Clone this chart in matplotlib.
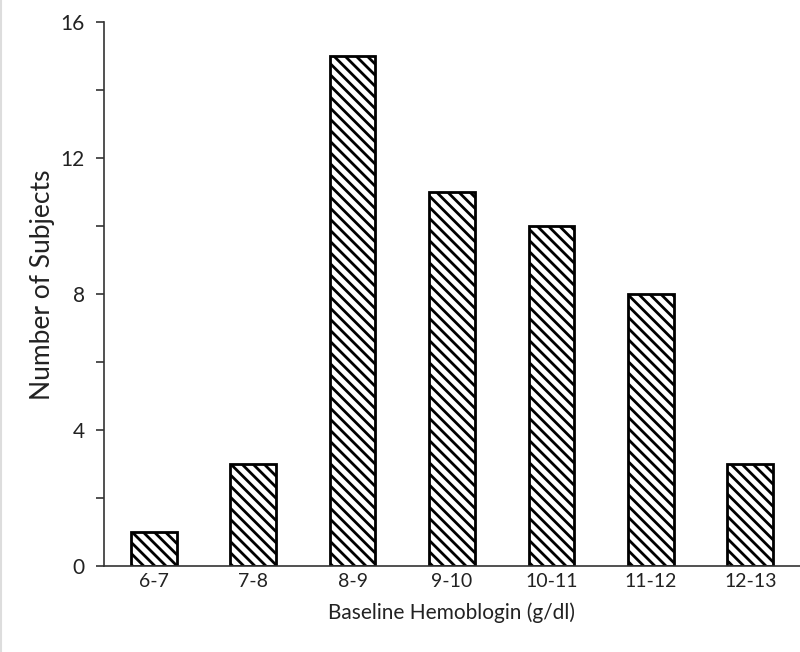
import matplotlib
matplotlib.use("Agg")
import matplotlib.pyplot as plt
from matplotlib.lines import Line2D
from matplotlib.ticker import MultipleLocator

# data
categories = ["6-7", "7-8", "8-9", "9-10", "10-11", "11-12", "12-13"]
subjects = [1, 3, 15, 11, 10, 8, 3]

plt.rcParams['font.family'] = ['Lato', 'DejaVu Sans']
plt.rcParams['hatch.linewidth'] = 2.0

fig = plt.figure(figsize=(8, 6.52), dpi=100)
# thin grey frame line on the left edge of the picture
fig.add_artist(Line2D([0.0015, 0.0015], [0, 1], color='#dddddd', linewidth=1.5,
                      transform=fig.transFigure))
ax = fig.add_axes([0.13, 0.132, 0.87, 0.834])

x = range(len(categories))
ax.bar(x, subjects, width=0.46, color='white', edgecolor='black',
       linewidth=2, hatch='\\\\\\')

ax.set_xlim(-0.5, len(categories) - 0.5)
ax.set_ylim(0, 16)
ax.set_xticks(list(x))
ax.set_xticklabels(categories, fontsize=14, color='#222222')
ax.tick_params(axis='x', length=0, pad=5)
ax.yaxis.set_major_locator(MultipleLocator(4))
ax.yaxis.set_minor_locator(MultipleLocator(2))
ax.tick_params(axis='y', which='both', direction='out', length=6, width=1.2,
               color='#333333', labelsize=15, pad=8, labelcolor='#222222')

ax.spines['top'].set_visible(False)
ax.spines['right'].set_visible(False)
ax.spines['left'].set_color('#333333')
ax.spines['left'].set_linewidth(1.2)
ax.spines['bottom'].set_color('#333333')
ax.spines['bottom'].set_linewidth(1.2)

ax.set_xlabel("Baseline Hemoblogin (g/dl)", fontsize=15, labelpad=9, color='#222222')
ax.set_ylabel("Number of Subjects", fontsize=19, labelpad=4, color='#222222')
ax.yaxis.label.set_y(0.518)

fig.savefig("out.png", dpi=100)
